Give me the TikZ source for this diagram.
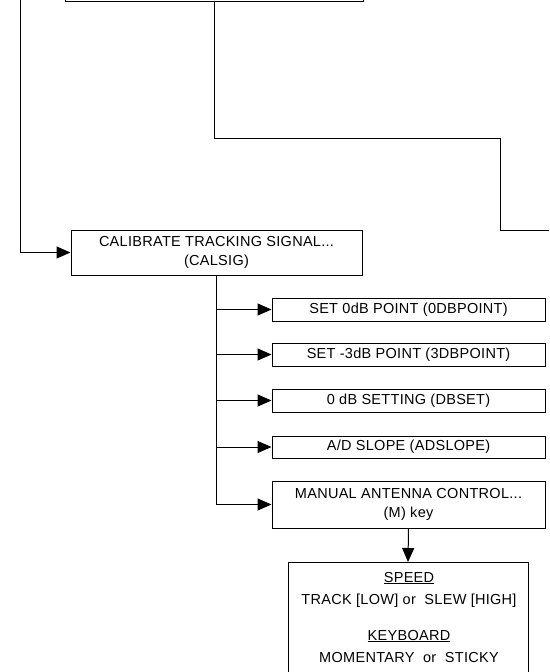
\documentclass[tikz,border=0pt]{standalone}
\usepackage{fontspec}
\newfontfamily\lblfont[LetterSpace=2]{Liberation Sans}
\usetikzlibrary{arrows.meta}
\begin{document}
\begin{tikzpicture}[x=1pt,y=-1pt,
  lbl/.style={font=\lblfont\fontsize{14.5}{19}\selectfont},
  boxnode/.style={draw, line width=1pt, inner sep=0pt, align=center, lbl},
  conn/.style={line width=1pt},
  arr/.style={conn, -{Triangle[length=14pt,width=12pt]}}]
\clip (0,0) rectangle (549,672);
\fill[white] (0,0) rectangle (549,672);
% top box (cut off)
\node[boxnode, minimum width=298pt, minimum height=40pt, anchor=south] (top) at (214,2) {};
% calibrate
\node[boxnode, minimum width=291pt, minimum height=45pt] (cal) at (216.5,252.5) {CALIBRATE TRACKING SIGNAL...\\(CALSIG)};
\node[boxnode, minimum width=273pt, minimum height=23pt] (b1) at (408.5,309.5) {SET 0dB POINT (0DBPOINT)};
\node[boxnode, minimum width=273pt, minimum height=23pt] (b2) at (408.5,354.5) {SET -3dB POINT (3DBPOINT)};
\node[boxnode, minimum width=273pt, minimum height=23pt] (b3) at (408.5,400.5) {0 dB SETTING (DBSET)};
\node[boxnode, minimum width=273pt, minimum height=22pt] (b4) at (408.5,447) {A/D SLOPE (ADSLOPE)};
\node[boxnode, minimum width=273pt, minimum height=47pt] (b5) at (408.5,504.5) {MANUAL ANTENNA CONTROL...\\(M) key};
\node[boxnode, minimum width=240pt, minimum height=140pt, anchor=north] (b6) at (408,562) {};
\node[lbl, anchor=base, inner sep=0pt] (sp1) at (409,582) {\underline{SPEED}};
\node[lbl, anchor=base, inner sep=0pt] (sp2) at (409,604) {TRACK [LOW] or\ \ SLEW [HIGH]};
\node[lbl, anchor=base, inner sep=0pt] (kb1) at (409,640) {\underline{KEYBOARD}};
\node[lbl, anchor=base, inner sep=0pt] (kb2) at (409,662) {MOMENTARY\ \ or\ \ STICKY};
% connectors
\coordinate (c1) at (500,138);
\coordinate (rend) at (560,230);
\coordinate (lt) at (20,-5);
\draw[conn] (top.south) |- (c1) |- (rend);
\draw[arr] (lt) |- (cal.west);
\draw[conn] (cal.south) -- (cal.south |- b5.west);
\foreach \b in {b1,b2,b3,b4,b5}
  \draw[arr] (cal.south |- \b.west) -- (\b.west);
\draw[arr] (b5.south) -- (b6.north);
\end{tikzpicture}
\end{document}
